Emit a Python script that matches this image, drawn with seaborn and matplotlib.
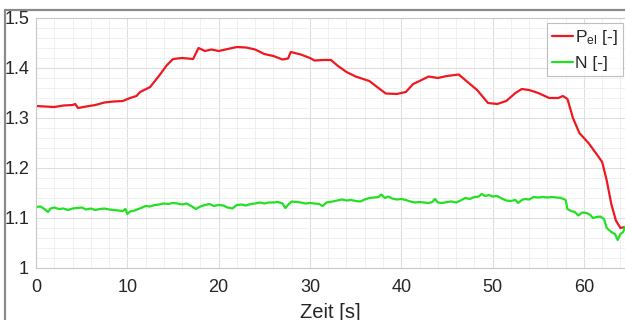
import matplotlib
matplotlib.use("Agg")
import matplotlib.pyplot as plt
import seaborn as sns
import numpy as np
from matplotlib.ticker import MultipleLocator, FuncFormatter
from matplotlib.lines import Line2D

# ---- data ----
t_pel = [0, 1, 2, 3, 4, 4.3, 4.6, 5.5, 6.5, 7.5, 8.5, 9.5, 10.3, 11, 11.4, 12.5, 13.5, 14.3,
         15, 16, 17.2, 17.8, 18.5, 19.2, 20, 21, 22, 23, 24, 25, 26, 27, 27.6, 27.9, 29, 30,
         30.5, 31.5, 32.3, 33, 34, 35, 36.5, 37.5, 38.3, 39.5, 40.5, 41.3, 42, 43, 44, 45,
         46.3, 47, 48.3, 49.5, 50.5, 51.5, 52.5, 53.2, 54, 55, 56.2, 57.2, 57.7, 58.2, 58.8,
         59.5, 60.5, 61.5, 62, 62.5, 63, 63.5, 64, 64.5]
p_el = [1.324, 1.323, 1.322, 1.325, 1.326, 1.328, 1.320, 1.323, 1.326, 1.331, 1.333, 1.334,
        1.340, 1.344, 1.352, 1.362, 1.385, 1.405, 1.418, 1.420, 1.418, 1.440, 1.434, 1.437,
        1.434, 1.438, 1.442, 1.441, 1.437, 1.428, 1.424, 1.417, 1.419, 1.432, 1.427, 1.420,
        1.415, 1.416, 1.416, 1.405, 1.392, 1.383, 1.374, 1.360, 1.349, 1.348, 1.352, 1.368,
        1.374, 1.383, 1.380, 1.384, 1.387, 1.376, 1.356, 1.330, 1.328, 1.334, 1.350, 1.358,
        1.356, 1.350, 1.340, 1.340, 1.344, 1.338, 1.300, 1.270, 1.250, 1.225, 1.212, 1.175,
        1.128, 1.095, 1.080, 1.082]

t_n = [0, 0.5, 1, 1.3, 1.6, 2, 2.5, 3, 3.5, 4, 4.5, 5, 5.5, 6, 6.5, 7, 7.5, 8, 8.5, 9, 9.5,
       9.8, 10, 10.3, 10.8, 11.5, 12, 12.5, 13, 13.5, 14, 14.5, 15, 15.5, 16, 16.5, 17, 17.5,
       18, 18.5, 19, 19.5, 20, 20.5, 21, 21.5, 22, 22.5, 23, 23.5, 24, 24.5, 25, 25.5, 26,
       26.5, 27, 27.3, 27.7, 28, 28.5, 29, 29.5, 30, 30.5, 31, 31.4, 31.8, 32.5, 33, 33.5,
       34, 34.5, 35, 35.5, 36, 36.5, 37, 37.5, 37.8, 38.2, 38.6, 39, 39.5, 40, 40.5, 41,
       41.5, 42, 42.5, 43, 43.4, 43.7, 44, 44.5, 45, 45.5, 46, 46.5, 47, 47.5, 48, 48.5,
       48.8, 49.2, 49.6, 50, 50.5, 51, 51.5, 52, 52.5, 52.8, 53.2, 53.5, 54, 54.5, 55, 55.5,
       56, 56.5, 57, 57.5, 58, 58.2, 58.6, 59, 59.4, 59.8, 60.3, 60.7, 61, 61.4, 61.8, 62.2,
       62.5, 63, 63.4, 63.7, 64, 64.3, 64.5]
n_val = [1.122, 1.123, 1.117, 1.112, 1.119, 1.121, 1.118, 1.119, 1.116, 1.119, 1.120, 1.121,
         1.117, 1.119, 1.116, 1.118, 1.119, 1.117, 1.116, 1.115, 1.114, 1.118, 1.108, 1.113,
         1.115, 1.120, 1.124, 1.123, 1.126, 1.127, 1.129, 1.128, 1.130, 1.129, 1.127, 1.129,
         1.124, 1.118, 1.123, 1.126, 1.128, 1.124, 1.126, 1.125, 1.121, 1.119, 1.126, 1.127,
         1.125, 1.128, 1.129, 1.131, 1.129, 1.131, 1.131, 1.132, 1.129, 1.120, 1.128, 1.133,
         1.132, 1.131, 1.129, 1.130, 1.129, 1.128, 1.124, 1.131, 1.133, 1.135, 1.137, 1.135,
         1.136, 1.134, 1.133, 1.137, 1.140, 1.141, 1.142, 1.147, 1.140, 1.143, 1.139, 1.137,
         1.138, 1.136, 1.133, 1.131, 1.132, 1.131, 1.130, 1.132, 1.138, 1.131, 1.130, 1.132,
         1.133, 1.131, 1.135, 1.140, 1.138, 1.142, 1.143, 1.148, 1.144, 1.146, 1.143, 1.144,
         1.139, 1.135, 1.134, 1.136, 1.130, 1.136, 1.138, 1.137, 1.142, 1.141, 1.142, 1.141,
         1.142, 1.141, 1.140, 1.136, 1.118, 1.114, 1.112, 1.105, 1.111, 1.110, 1.106, 1.100,
         1.102, 1.103, 1.098, 1.080, 1.072, 1.068, 1.056, 1.068, 1.072, 1.082]

label_pel = "P$_{el}$ [-]"
label_n = "N [-]"
x_label = "Zeit [s]"
x_ticks = [0, 10, 20, 30, 40, 50, 60]
y_ticks = [1, 1.1, 1.2, 1.3, 1.4, 1.5]

# ---- style ----
sns.set_style("white")
plt.rcParams["font.family"] = ["Liberation Sans", "DejaVu Sans"]
plt.rcParams["mathtext.default"] = "regular"

fig = plt.figure(figsize=(6.25, 3.2), dpi=100)
ax = fig.add_axes([36 / 625, 1 - 268 / 320, 1 - 36 / 625, (268 - 18) / 320])

sns.lineplot(x=t_pel, y=p_el, ax=ax, color="#f01820", linewidth=1.6, label=label_pel)
sns.lineplot(x=t_n, y=n_val, ax=ax, color="#22e022", linewidth=1.6, label=label_n)

ax.set_xlim(0, 64.5)
ax.set_ylim(1, 1.5)
ax.set_xticks(x_ticks)
ax.set_yticks(y_ticks)
ax.yaxis.set_major_formatter(FuncFormatter(lambda v, p: "%g" % v))
ax.xaxis.set_minor_locator(MultipleLocator(2))
ax.yaxis.set_minor_locator(MultipleLocator(0.02))
ax.grid(which="major", color="#dedede", linewidth=0.8)
ax.grid(which="minor", color="#f0f0f0", linewidth=0.7)
ax.set_axisbelow(True)
ax.tick_params(which="major", direction="in", length=4, color="#b0b0b0",
               labelsize=13, labelcolor="#262626")
ax.tick_params(axis="x", which="major", pad=8)
ax.tick_params(axis="y", which="major", pad=5)
ax.tick_params(which="minor", length=0)
for s in ["left", "bottom", "top", "right"]:
    ax.spines[s].set_color("#c8c8c8")
    ax.spines[s].set_linewidth(0.8)
ax.spines["right"].set_visible(False)

ax.set_xlabel(x_label, fontsize=14.5, color="#262626", labelpad=5)
ax.set_ylabel("")

leg = ax.legend(loc="upper right", bbox_to_anchor=(623 / 625 * 1.0, 1 - 5 / 250),
                bbox_transform=ax.transAxes, frameon=True, fancybox=False,
                fontsize=12.5, handlelength=1.2, handletextpad=0.15,
                borderpad=0.3, labelspacing=0.5, borderaxespad=0)
leg.get_frame().set_edgecolor("#b0b0b0")
leg.get_frame().set_linewidth(0.8)

# outer figure frame lines (top and left)
y_top = 1 - 10 / 320
x_left = 5 / 625
fig.add_artist(Line2D([x_left, 1], [y_top, y_top], transform=fig.transFigure,
                      color="#8a8a8a", linewidth=1.6))
fig.add_artist(Line2D([x_left, x_left], [0, y_top], transform=fig.transFigure,
                      color="#8a8a8a", linewidth=1.6))

fig.savefig("out.png", dpi=100)
